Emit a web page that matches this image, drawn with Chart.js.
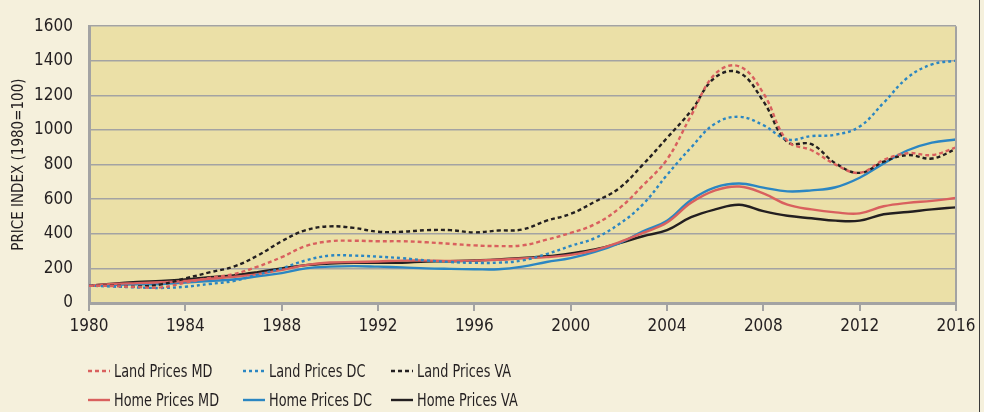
<!DOCTYPE html>
<html>
<head>
<meta charset="utf-8">
<script src="https://cdn.jsdelivr.net/npm/chart.js@4.4.0/dist/chart.umd.min.js"></script>
<style>
  html, body { margin: 0; padding: 0; background: #f5f0dc; }
  #wrap { position: relative; width: 984px; height: 412px; overflow: hidden; }
  #priceChart { position: absolute; left: 0; top: 0; }
  .legend-item {
    position: absolute; height: 24px; display: flex; align-items: center;
    font-family: 'DejaVu Sans Condensed', 'Liberation Sans Narrow', sans-serif;
    font-size: 17px; color: #231f20; white-space: nowrap;
  }
  .legend-item svg { margin-right: 4px; flex: none; }
  .legend-item span { display: inline-block; transform: scaleX(0.84); transform-origin: left center; }
</style>
</head>
<body>
<div id="wrap">
  <canvas id="priceChart" width="984" height="412"></canvas>
</div>
<script>
// Values (index, 1980 = 100)
const years = [1980, 1981, 1982, 1983, 1984, 1985, 1986, 1987, 1988, 1989,
  1990, 1991, 1992, 1993, 1994, 1995, 1996, 1997, 1998, 1999,
  2000, 2001, 2002, 2003, 2004, 2005, 2006, 2007, 2008, 2009,
  2010, 2011, 2012, 2013, 2014, 2015, 2016];

const landMD = [100, 98, 92, 90, 118, 145, 167, 210, 265, 329,
  357, 360, 357, 357, 351, 342, 333, 329, 333, 366,
  405, 455, 545, 680, 830, 1083, 1324, 1368, 1213, 937,
  883, 800, 752, 827, 866, 855, 899];

const landDC = [100, 95, 90, 87, 94, 110, 127, 164, 200, 246,
  274, 274, 268, 259, 246, 237, 232, 233, 246, 283,
  330, 375, 455, 570, 740, 899, 1037, 1076, 1028, 945,
  965, 973, 1020, 1158, 1304, 1379, 1401];

const landVA = [100, 100, 95, 108, 142, 177, 210, 274, 357, 421,
  443, 434, 412, 412, 421, 421, 408, 419, 425, 476,
  515, 585, 662, 800, 954, 1111, 1304, 1331, 1166, 930,
  918, 807, 752, 817, 855, 835, 890];

const homeMD = [100, 110, 115, 120, 127, 140, 151, 167, 191, 219,
  234, 237, 240, 245, 245, 243, 245, 250, 258, 265,
  278, 305, 350, 405, 465, 579, 651, 673, 634, 568,
  541, 524, 518, 559, 579, 590, 607];

const homeDC = [100, 105, 108, 110, 118, 127, 136, 154, 173, 200,
  210, 213, 210, 206, 200, 197, 195, 195, 210, 237,
  259, 295, 345, 414, 476, 596, 669, 691, 667, 645,
  651, 669, 724, 807, 883, 927, 945];

const homeVA = [100, 112, 121, 127, 136, 149, 160, 178, 200, 219,
  228, 232, 232, 233, 240, 241, 246, 252, 261, 270,
  287, 310, 345, 386, 421, 496, 541, 568, 531, 504,
  490, 476, 476, 513, 526, 541, 553];

const seriesLabels = ['Land Prices MD', 'Land Prices DC', 'Land Prices VA',
  'Home Prices MD', 'Home Prices DC', 'Home Prices VA'];

const yTicks = [0, 200, 400, 600, 800, 1000, 1200, 1400, 1600];
const xTicks = [1980, 1984, 1988, 1992, 1996, 2000, 2004, 2008, 2012, 2016];

const RED = '#d9605e';
const BLUE = '#2b86c2';
const BLACK = '#231f20';
const GRID = '#a3a3a3';
const FONT = "'DejaVu Sans Condensed', 'Liberation Sans Narrow', sans-serif";

function toPoints(values) {
  return values.map((v, i) => ({ x: years[i], y: v }));
}

// Fill the plot area and draw the right frame
const plotFrame = {
  id: 'plotFrame',
  beforeDraw(chart) {
    const { ctx, chartArea: a } = chart;
    ctx.save();
    ctx.fillStyle = '#ebe0a7';
    ctx.fillRect(a.left, a.top, a.right - a.left, a.bottom - a.top);
    ctx.restore();
  },
  afterDraw(chart) {
    const { ctx, chartArea: a } = chart;
    ctx.save();
    ctx.strokeStyle = GRID;
    ctx.lineWidth = 2;
    ctx.beginPath();
    ctx.moveTo(a.right, a.top);
    ctx.lineTo(a.right, a.bottom);
    ctx.stroke();
    // outer panel edge on the right
    ctx.strokeStyle = '#3a3a3a';
    ctx.lineWidth = 1;
    ctx.beginPath();
    ctx.moveTo(979.5, 0);
    ctx.lineTo(979.5, chart.height);
    ctx.stroke();
    ctx.restore();
  },
};

function chartPriceIndex(elementId) {
  return {
    chartInstance: null,

    initChart() {
      const ctx = document.getElementById(elementId).getContext('2d');

      const datasets = [
        { label: seriesLabels[0], data: toPoints(landMD), borderColor: RED, borderDash: [4, 3] },
        { label: seriesLabels[1], data: toPoints(landDC), borderColor: BLUE, borderDash: [3, 3] },
        { label: seriesLabels[2], data: toPoints(landVA), borderColor: BLACK, borderDash: [4, 3] },
        { label: seriesLabels[3], data: toPoints(homeMD), borderColor: RED },
        { label: seriesLabels[4], data: toPoints(homeDC), borderColor: BLUE },
        { label: seriesLabels[5], data: toPoints(homeVA), borderColor: BLACK },
      ].map(d => Object.assign({
        borderWidth: 2.4,
        pointRadius: 0,
        tension: 0.4,
        fill: false,
      }, d));

      this.chartInstance = new Chart(ctx, {
        type: 'line',
        data: { datasets },
        options: {
          responsive: false,
          animation: false,
          layout: { padding: { top: 13, right: 28, left: 0, bottom: 0 } },
          plugins: { legend: { display: false }, tooltip: { enabled: false } },
          scales: {
            x: {
              type: 'linear',
              min: 1980,
              max: 2016,
              afterBuildTicks: s => { s.ticks = xTicks.map(v => ({ value: v })); },
              afterFit: s => { s.height = 109; },
              ticks: {
                callback: v => String(v),
                color: BLACK,
                font: { family: FONT, size: 17 },
                padding: 5,
                maxRotation: 0,
              },
              grid: { drawOnChartArea: false, drawTicks: true, tickLength: 8, color: GRID, lineWidth: 2 },
              border: { color: GRID, width: 3 },
            },
            y: {
              min: 0,
              max: 1600,
              afterBuildTicks: s => { s.ticks = yTicks.map(v => ({ value: v })); },
              afterFit: s => { s.width = 89; },
              ticks: {
                callback: v => String(v),
                color: BLACK,
                font: { family: FONT, size: 17 },
                padding: 16,
              },
              grid: { drawTicks: false, color: GRID, lineWidth: 1.5 },
              border: { color: GRID, width: 3 },
              title: {
                display: true,
                text: 'PRICE INDEX (1980=100)',
                color: BLACK,
                font: { family: FONT, size: 15 },
                padding: { top: 10, bottom: 0 },
              },
            },
          },
        },
        plugins: [plotFrame],
      });

      this.buildLegend();
    },

    // HTML legend in two rows of three, like the original
    buildLegend() {
      const wrap = document.getElementById('wrap');
      const colX = [88, 243, 391];
      const rowY = [359, 388];
      this.chartInstance.data.datasets.forEach((ds, i) => {
        const item = document.createElement('div');
        item.className = 'legend-item';
        item.style.left = colX[i % 3] + 'px';
        item.style.top = rowY[Math.floor(i / 3)] + 'px';
        const dash = ds.borderDash ? ds.borderDash.join(' ') : 'none';
        item.innerHTML =
          '<svg width="22" height="6"><line x1="0" y1="3" x2="22" y2="3" stroke="' + ds.borderColor +
          '" stroke-width="2.4" stroke-dasharray="' + dash + '"/></svg>';
        const text = document.createElement('span');
        text.textContent = ds.label;
        item.appendChild(text);
        wrap.appendChild(item);
      });
    },
  };
}

chartPriceIndex('priceChart').initChart();
</script>
</body>
</html>
